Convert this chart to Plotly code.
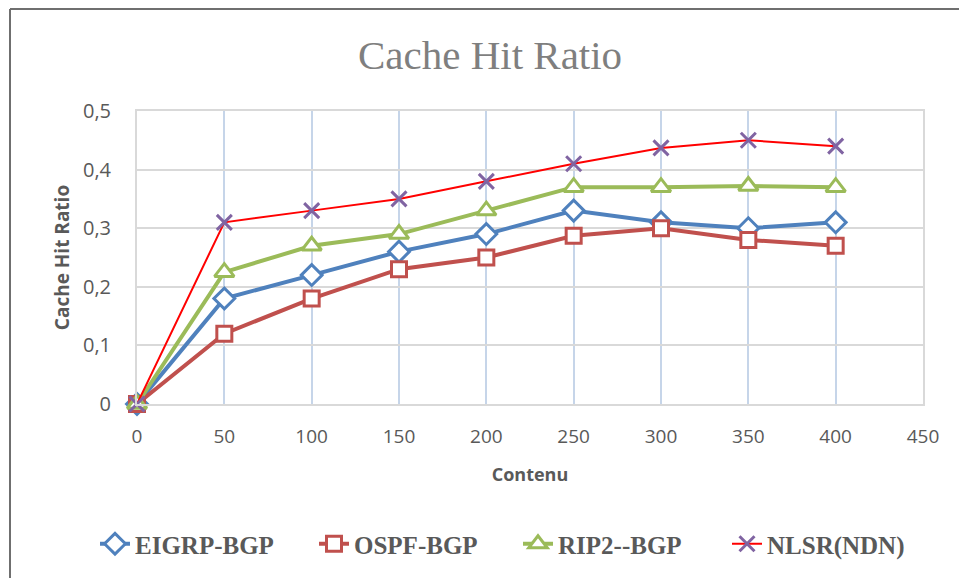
import plotly.graph_objects as go

contenu = [0, 50, 100, 150, 200, 250, 300, 350, 400]
eigrp_bgp = [0, 0.18, 0.22, 0.26, 0.29, 0.33, 0.31, 0.30, 0.31]
ospf_bgp = [0, 0.12, 0.18, 0.23, 0.25, 0.287, 0.30, 0.28, 0.27]
rip2_bgp = [0, 0.225, 0.27, 0.29, 0.33, 0.37, 0.37, 0.372, 0.37]
nlsr_ndn = [0, 0.31, 0.33, 0.35, 0.38, 0.41, 0.437, 0.45, 0.44]

x_ticks = [0, 50, 100, 150, 200, 250, 300, 350, 400, 450]

# plot area in pixels
PL, PR, PT, PB = 137, 36, 111, 174
PW, PH = 959 - PL - PR, 578 - PT - PB


def px_x(p):
    return (p - PL) / PW


def px_y(p):
    return (578 - PB - p) / PH


fig = go.Figure()

fig.add_trace(go.Scatter(
    x=contenu, y=eigrp_bgp, name="EIGRP-BGP", mode="lines+markers", cliponaxis=False,
    legend="legend",
    line=dict(color="#4f81bd", width=4),
    marker=dict(symbol="diamond", size=16, color="white",
                line=dict(color="#4f81bd", width=3)),
))
fig.add_trace(go.Scatter(
    x=contenu, y=ospf_bgp, name="OSPF-BGP", mode="lines+markers", cliponaxis=False,
    legend="legend2",
    line=dict(color="#c0504d", width=4),
    marker=dict(symbol="square", size=15, color="white",
                line=dict(color="#c0504d", width=3)),
))
fig.add_trace(go.Scatter(
    x=contenu, y=rip2_bgp, name="RIP2--BGP", mode="lines+markers", cliponaxis=False,
    legend="legend3",
    line=dict(color="#9bbb59", width=4),
    marker=dict(symbol="triangle-up", size=17, color="white",
                line=dict(color="#9bbb59", width=3)),
))
fig.add_trace(go.Scatter(
    x=contenu, y=nlsr_ndn, name="NLSR(NDN)", mode="lines+markers", cliponaxis=False,
    legend="legend4",
    line=dict(color="#ff0000", width=2),
    marker=dict(symbol="x-thin-open", size=15, color="#8064a2",
                line=dict(color="#8064a2", width=3)),
))

legend_font = dict(family="Liberation Serif, serif", size=25, color="#595959", weight="bold")


def legend_at(px):
    return dict(orientation="h", x=px_x(px), xanchor="left",
                y=px_y(544), yanchor="middle", font=legend_font,
                bgcolor="rgba(0,0,0,0)")


fig.update_layout(
    width=959, height=578,
    margin=dict(l=PL, r=PR, t=PT, b=PB, autoexpand=False),
    paper_bgcolor="white", plot_bgcolor="white",
    separators=", ",
    font=dict(family="Open Sans, Liberation Sans, sans-serif", color="#595959"),
    title=dict(text="Cache Hit Ratio", x=0.511, xanchor="center",
               y=0.905, yanchor="middle",
               font=dict(family="Liberation Serif, serif", size=41, color="#7f7f7f")),
    showlegend=True,
    legend=legend_at(95),
    legend2=legend_at(314),
    legend3=legend_at(518),
    legend4=legend_at(727),
    xaxis=dict(range=[0, 450], tickvals=x_ticks, showgrid=True,
               gridcolor="#c6d5e9", gridwidth=1.5, zeroline=False,
               showline=True, linecolor="#d9d9d9", linewidth=2, mirror=True,
               ticks="", ticklabelstandoff=14,
               tickfont=dict(size=19, color="#595959"),
               title=dict(text="<b>Contenu</b>", font=dict(size=18, color="#595959"),
                          standoff=21)),
    yaxis=dict(range=[0, 0.5], dtick=0.1, showgrid=True,
               gridcolor="#d9d9d9", gridwidth=2, zeroline=False,
               showline=True, linecolor="#d9d9d9", linewidth=2, mirror=True,
               ticks="", ticklabelstandoff=20,
               tickfont=dict(size=20, color="#595959"),
               title=dict(text="<b>Cache Hit Ratio</b>", font=dict(size=19, color="#595959"),
                          standoff=8)),
    shapes=[
        dict(type="line", xref="paper", yref="paper",
             x0=px_x(10), x1=px_x(980), y0=px_y(9), y1=px_y(9),
             line=dict(color="#6f6f6f", width=2)),
        dict(type="line", xref="paper", yref="paper",
             x0=px_x(10), x1=px_x(10), y0=px_y(9), y1=px_y(600),
             line=dict(color="#6f6f6f", width=2)),
    ],
)

fig.write_html("out.html")
